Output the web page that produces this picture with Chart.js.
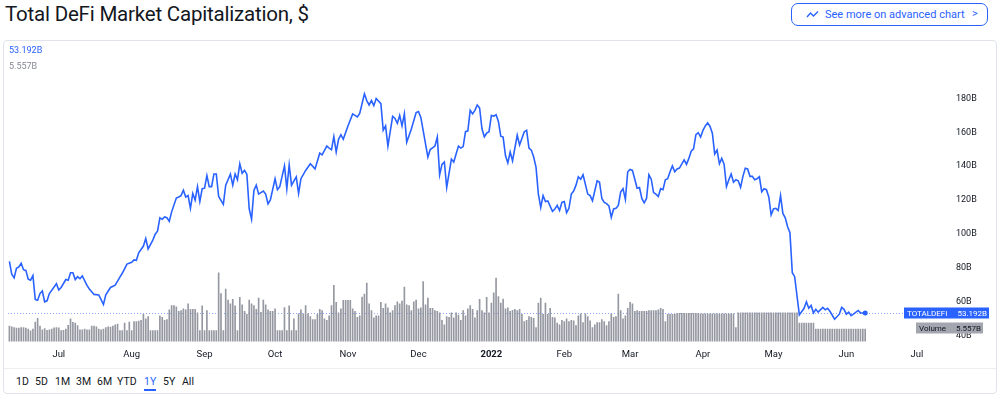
<!DOCTYPE html>
<html lang="en">
<head>
<meta charset="UTF-8">
<title>Total DeFi Market Capitalization, $</title>
<script src="https://cdn.jsdelivr.net/npm/chart.js"></script>
<style>
  body { margin: 0; width: 1000px; height: 403px; background: #fff; position: relative; overflow: hidden;
         font-family: Roboto, "Noto Sans", sans-serif; color: #131722; }
  #title { position: absolute; left: 5px; top: 2px; font-size: 20.5px; white-space: nowrap; letter-spacing: -0.2px; }
  #btn { position: absolute; left: 791px; top: 3px; width: 197px; height: 23px; box-sizing: border-box;
         border: 1px solid #2962ff; border-radius: 7px; color: #2962ff; font-size: 11px; }
  #btn svg { position: absolute; left: 14px; top: 6px; }
  #btn span { position: absolute; left: 33px; top: 4px; }
  #btn b { position: absolute; left: 180px; top: 3px; font-weight: normal; }
  #box { position: absolute; left: 3px; top: 40px; width: 994px; height: 354px; box-sizing: border-box;
         border: 1px solid #e0e3eb; border-radius: 4px; }
  #wrap { position: absolute; left: 4px; top: 41px; width: 993px; height: 327px; }
  .leg { position: absolute; left: 9px; font-size: 9px; }
  #ranges { position: absolute; left: 4px; top: 368px; width: 992px; height: 25px; border-top: 1px solid #eceef2; font-size: 10.5px; }
  #ranges span { position: absolute; top: 6px; }
  #ranges .on { color: #2962ff; border-bottom: 2px solid #2962ff; padding-bottom: 1px; }
</style>
</head>
<body>
  <div id="title">Total DeFi Market Capitalization, $</div>
  <div id="btn">
    <svg width="13" height="9" viewBox="0 0 13 9"><polyline points="1,7 4.5,3 7.5,6 12,1.5" fill="none" stroke="#2962ff" stroke-width="1.4"/></svg>
    <span>See more on advanced chart</span><b>&gt;</b>
  </div>
  <div id="box"></div>
  <div id="wrap"><canvas id="grafico"></canvas></div>
  <div class="leg" style="top:45px;color:#2962ff">53.192B</div>
  <div class="leg" style="top:61px;color:#868993">5.557B</div>
  <div id="ranges">
    <span style="left:12px">1D</span><span style="left:31px">5D</span><span style="left:51px">1M</span>
    <span style="left:72px">3M</span><span style="left:93px">6M</span><span style="left:113px">YTD</span>
    <span class="on" style="left:140px">1Y</span><span style="left:159px">5Y</span><span style="left:178px">All</span>
  </div>

<script>
  // day 0 = 10 Jun 2021
  var monthDays = [21, 52, 83, 113, 144, 174, 205, 236, 264, 295, 325, 356, 386]
  var monthLabels = ['Jul', 'Aug', 'Sep', 'Oct', 'Nov', 'Dec', '2022', 'Feb', 'Mar', 'Apr', 'May', 'Jun', 'Jul']
  var priceTicks = [40, 60, 80, 100, 120, 140, 160, 180]

  // TOTALDEFI, billions $
  var priceDays = [
    0, 1, 2, 3, 4, 5, 6, 7, 8, 9, 10, 11, 12, 13, 14, 15, 16, 17, 20, 21, 22, 24, 25, 26, 27, 28, 29, 30, 31, 33,
    34, 36, 38, 40, 41, 43, 45, 47, 48, 50, 52, 53, 54, 55, 57, 58, 59, 61, 62, 63, 64, 65, 66, 67, 68, 69, 71, 72, 73, 74,
    75, 76, 77, 78, 79, 80, 81, 82, 83, 84, 85, 86, 87, 88, 89, 91, 92, 94, 95, 96, 97, 98, 99, 100, 101, 102, 103, 104, 105, 106,
    108, 109, 110, 111, 113, 114, 115, 117, 118, 119, 120, 122, 123, 124, 126, 128, 130, 132, 133, 135, 136, 137, 138, 139, 140, 141, 142, 144, 146, 148,
    149, 151, 152, 153, 154, 155, 156, 158, 159, 160, 161, 163, 164, 165, 166, 167, 168, 169, 171, 173, 174, 175, 178, 179, 181, 182, 183, 184, 185, 186,
    188, 189, 191, 192, 193, 194, 195, 196, 197, 198, 199, 200, 201, 202, 203, 204, 205, 206, 207, 208, 209, 210, 211, 212, 213, 214, 216, 217, 219, 220,
    221, 222, 223, 224, 225, 226, 227, 228, 229, 231, 232, 233, 234, 235, 236, 237, 238, 239, 240, 241, 242, 243, 244, 246, 247, 248, 250, 251, 252, 253,
    254, 255, 256, 257, 258, 259, 260, 261, 262, 263, 264, 265, 266, 267, 268, 269, 270, 271, 272, 273, 274, 275, 276, 277, 278, 279, 280, 281, 282, 283,
    284, 285, 287, 288, 289, 290, 291, 292, 293, 294, 295, 296, 297, 298, 299, 300, 301, 302, 303, 304, 305, 306, 307, 308, 309, 310, 311, 312, 313, 314,
    315, 316, 317, 318, 319, 320, 321, 322, 323, 324, 325, 326, 327, 328, 329, 330, 331, 332, 333, 334, 336, 338, 339, 340, 341, 342, 343, 344, 346, 347,
    348, 349, 351, 353, 354, 355, 356, 357, 358, 359, 361, 362, 364
  ]
  var priceValues = [
    83.7, 76.1, 74.0, 79.6, 80.5, 82.6, 78.8, 78.4, 73.2, 72.6, 75.3, 61.2, 60.7, 64.7, 66.2, 59.8, 60.4, 64.7, 70.5, 66.8, 68.3, 73.0, 72.6, 77.0, 77.0, 73.0, 74.7, 73.5, 75.1, 69.5,
    67.4, 64.2, 63.9, 58.3, 63.9, 68.3, 69.7, 74.4, 76.7, 82.1, 83.2, 84.6, 84.4, 88.8, 92.8, 97.2, 91.1, 96.3, 99.8, 101.6, 109.5, 108.6, 110.0, 109.5, 107.4, 113.0, 121.2, 121.8, 122.6, 125.8,
    121.8, 122.6, 115.1, 123.9, 120.0, 127.9, 119.1, 126.7, 127.0, 134.4, 127.9, 127.9, 135.4, 135.4, 122.1, 117.4, 128.8, 135.3, 128.8, 135.4, 132.0, 141.4, 135.8, 137.5, 135.3, 114.7, 108.6, 125.6, 128.8, 123.5,
    125.3, 123.5, 117.7, 120.0, 132.6, 126.1, 127.9, 140.2, 126.7, 140.7, 128.8, 133.7, 123.9, 132.6, 137.5, 141.4, 138.4, 147.7, 146.7, 151.9, 150.7, 149.8, 157.5, 148.4, 155.9, 158.6, 155.9, 163.8, 170.9, 169.1,
    171.2, 182.8, 178.8, 176.2, 178.8, 175.8, 180.0, 177.0, 161.2, 163.8, 151.9, 169.5, 168.2, 165.3, 170.0, 163.8, 170.9, 154.2, 162.1, 171.7, 172.3, 168.8, 145.4, 149.8, 151.9, 157.2, 134.9, 141.1, 142.5, 127.4,
    144.2, 142.5, 151.9, 150.7, 151.6, 160.4, 160.9, 173.0, 170.9, 173.0, 176.2, 174.4, 162.1, 157.4, 159.5, 160.4, 170.0, 169.6, 170.4, 166.5, 157.7, 157.2, 146.3, 141.9, 148.4, 143.2, 158.3, 152.5, 160.4, 161.2,
    150.7, 149.5, 145.4, 139.3, 123.5, 115.6, 122.6, 119.1, 119.5, 113.3, 114.7, 116.8, 113.8, 118.6, 119.1, 112.5, 115.1, 123.5, 125.3, 128.8, 133.7, 132.3, 134.9, 123.5, 122.6, 119.6, 131.4, 130.5, 120.9, 118.6,
    117.9, 116.5, 109.8, 114.7, 115.1, 116.8, 124.7, 126.7, 120.4, 136.7, 138.1, 137.5, 132.3, 127.0, 127.4, 120.9, 118.3, 120.9, 134.9, 132.3, 124.4, 123.5, 122.1, 126.7, 126.1, 132.0, 132.6, 136.7, 140.2, 136.7,
    138.4, 138.9, 143.7, 141.1, 144.6, 148.9, 150.2, 158.6, 159.8, 157.2, 161.2, 163.8, 165.6, 163.5, 159.5, 147.2, 149.5, 141.4, 144.6, 141.1, 127.9, 132.0, 135.4, 130.5, 132.0, 131.4, 127.5, 134.0, 138.8, 138.4,
    134.0, 134.0, 132.0, 132.6, 133.7, 124.9, 126.7, 126.1, 121.8, 111.2, 114.7, 115.1, 113.8, 122.6, 112.1, 109.5, 104.2, 100.7, 77.0, 74.7, 52.1, 56.0, 59.8, 56.0, 57.7, 53.3, 55.4, 53.7, 56.5, 55.1,
    56.0, 54.2, 49.5, 52.5, 56.5, 55.4, 52.5, 53.7, 51.6, 52.5, 54.7, 53.3, 53.192
  ]

  // daily volume, billions $, one per day from day 0
  var volumeValues = [
    6.9, 6.6, 6.2, 6.0, 6.0, 6.3, 6.3, 6.0, 5.6, 4.8, 5.6, 8.7, 10.4, 6.9, 5.3, 5.8, 5.0, 5.3, 5.6, 6.1,
    6.3, 6.1, 4.9, 5.0, 5.6, 7.3, 10.2, 8.6, 8.2, 7.1, 5.3, 5.3, 5.6, 5.3, 5.3, 6.9, 6.9, 6.6, 5.6, 5.3,
    5.6, 6.2, 6.6, 6.5, 6.9, 7.5, 7.8, 4.9, 4.9, 8.2, 4.9, 8.7, 4.9, 8.9, 8.9, 9.1, 9.5, 12.2, 10.2, 11.1,
    4.9, 4.9, 4.9, 4.9, 11.5, 10.8, 9.5, 9.8, 14.2, 16.1, 16.1, 15.5, 13.5, 13.8, 14.6, 14.2, 16.8, 14.4, 14.4, 14.4,
    12.8, 4.9, 15.9, 4.9, 13.8, 4.9, 4.9, 4.9, 4.9, 30.7, 21.4,
    4.9, 23.4, 18.5, 16.8, 18.8, 15.9, 4.9, 19.7, 16.4, 13.5, 12.2, 18.5, 16.8, 16.1, 14.4, 19.4, 13.1, 18.5, 16.4, 14.2,
    13.5, 13.5, 14.6, 4.9, 4.9, 4.9, 15.2, 4.9, 15.9, 4.9, 10.2, 4.9, 12.4, 14.2, 12.4, 16.1, 12.4, 11.1, 9.8, 9.8,
    12.2, 14.4, 13.8, 10.2, 9.5, 11.5, 16.1, 25.1, 17.5, 12.8, 14.6, 18.4, 18.4, 18.4, 18.4, 14.6, 13.5, 10.8, 11.5, 19.8,
    21.2, 26.1, 16.8, 13.8, 10.6, 11.5, 11.5, 17.5, 14.8, 16.8, 15.1, 12.8, 13.8, 16.1, 17.7, 16.8, 18.1, 24.3, 16.4, 16.1,
    13.8, 17.7, 18.5, 14.6, 15.1, 26.7, 16.4, 19.4, 14.8, 14.8, 13.8, 13.5,
    12.8, 9.5, 7.5, 11.1, 10.8, 12.8, 10.6, 12.8, 11.8, 9.5, 13.8, 11.5, 14.6, 16.1, 14.4, 10.6, 13.8, 18.8, 13.8, 12.8,
    19.7, 12.8, 17.2, 21.7, 28.3, 20.1, 17.2, 19.0, 14.6, 15.1, 13.5, 13.9, 14.4, 13.8, 14.4, 12.2, 8.9, 9.5, 11.1, 10.8,
    10.4, 6.2, 17.2, 19.4, 12.2, 17.2, 12.2, 14.8, 10.8, 10.6, 8.2, 7.5, 9.5, 8.9, 10.2, 8.9, 9.5, 9.3, 7.1, 11.5,
    12.4, 8.5, 12.4, 11.1, 9.3, 6.2, 7.5, 8.5, 8.5, 9.8, 8.9, 7.1, 8.9, 12.4, 10.8, 11.1, 21.2, 13.8, 10.2, 11.5,
    14.8, 17.5, 16.8, 13.5, 13.8, 13.5, 13.5, 13.5, 13.5, 13.8, 13.8, 13.8,
    13.8, 14.2, 14.8, 14.4, 8.9, 12.2, 12.2, 12.2, 12.2, 12.6, 12.6, 12.6, 12.6, 12.6, 12.6, 12.6, 12.6, 12.6, 12.6,
    12.4, 12.4, 12.4, 12.4, 12.4, 12.4, 12.4, 12.4, 12.4, 12.4, 12.4, 12.4, 12.4, 12.4, 12.4, 6.2,
    12.8, 12.8, 12.8, 12.8, 12.8, 12.8, 12.8, 12.8, 12.8, 12.8, 12.8, 12.8, 12.8, 12.8, 12.8, 12.8, 12.8, 12.8, 12.8, 12.8,
    12.8, 12.8, 12.8, 12.8, 12.8, 12.8,
    8.2, 8.2, 8.2, 8.2, 8.2, 8.2, 8.2,
    5.6, 5.6, 5.6, 5.6, 5.6, 5.6, 5.6, 5.6, 5.6, 5.6, 5.6, 5.6, 5.6, 5.6, 5.6, 5.6, 5.6, 5.6, 5.6, 5.6, 5.6, 5.557
  ]

  var lastPrice = priceValues[priceValues.length - 1]
  var lastVolume = volumeValues[volumeValues.length - 1]

  var precoData = priceDays.map((d, i) => ({ x: d, y: priceValues[i] }))
  var volumeData = volumeValues.map((v, i) => ({ x: i, y: v }))

  function rotulo(ctx, x1, x2, y, bg, fg, left, right) {
    ctx.fillStyle = bg
    ctx.fillRect(x1, Math.round(y) - 5.5, x2 - x1, 11)
    ctx.fillStyle = fg
    ctx.font = '8px Roboto, sans-serif'
    ctx.textBaseline = 'middle'
    ctx.textAlign = 'left'
    ctx.fillText(left, x1 + 3, y + 0.5)
    ctx.textAlign = 'right'
    ctx.fillText(right, x2 - 2, y + 0.5)
  }

  var ultimoValor = {
    id: 'ultimoValor',
    beforeDatasetsDraw(chart) {
      var ctx = chart.ctx
      var a = chart.chartArea
      var y = Math.round(chart.scales.y.getPixelForValue(lastPrice)) + 0.5
      ctx.save()
      ctx.strokeStyle = 'rgba(41, 98, 255, 0.55)'
      ctx.lineWidth = 1
      ctx.setLineDash([1, 2])
      ctx.beginPath()
      ctx.moveTo(a.left, y)
      ctx.lineTo(a.right - 31, y)
      ctx.stroke()
      ctx.restore()
    },
    afterDraw(chart) {
      var ctx = chart.ctx
      var r = chart.chartArea.right
      ctx.save()
      rotulo(ctx, r - 31, r + 54, chart.scales.y.getPixelForValue(lastPrice), '#2962ff', '#ffffff', 'TOTALDEFI', '53.192B')
      rotulo(ctx, r - 19, r + 48, chart.scales.yv.getPixelForValue(lastVolume) - 1, '#a3a6af', '#131722', 'Volume', '5.557B')
      ctx.restore()
    }
  }

  var grafico = new Chart(document.getElementById('grafico'), {
    data: {
      datasets: [{
        type: 'line',
        label: 'TOTALDEFI',
        data: precoData,
        yAxisID: 'y',
        borderColor: '#2962ff',
        borderWidth: 1.6,
        tension: 0,
        pointRadius: (c) => c.dataIndex === priceDays.length - 1 ? 2.5 : 0,
        pointBackgroundColor: '#2962ff',
        pointBorderWidth: 0,
        order: 0
      }, {
        type: 'bar',
        label: 'Volume',
        data: volumeData,
        yAxisID: 'yv',
        backgroundColor: '#9598a1',
        barThickness: 1,
        order: 1
      }]
    },
    options: {
      animation: false,
      responsive: true,
      maintainAspectRatio: false,
      layout: { padding: 0 },
      plugins: { legend: { display: false }, tooltip: { enabled: false } },
      scales: {
        x: {
          type: 'linear',
          min: -0.6,
          max: 393.7,
          offset: false,
          grid: { display: false, drawTicks: false },
          border: { display: false },
          afterBuildTicks: (s) => { s.ticks = monthDays.map(v => ({ value: v })) },
          afterFit: (s) => { s.height = 19 },
          ticks: {
            autoSkip: false,
            maxRotation: 0,
            padding: 7,
            color: '#131722',
            font: (c) => ({ size: 9.5, family: 'Roboto, sans-serif', weight: monthLabels[c.index] === '2022' ? 'bold' : 'normal' }),
            callback: (v) => monthLabels[monthDays.indexOf(v)]
          }
        },
        y: {
          position: 'right',
          min: 36.3,
          max: 198.4,
          grid: { display: false, drawTicks: false },
          border: { display: false },
          afterBuildTicks: (s) => { s.ticks = priceTicks.map(v => ({ value: v })) },
          afterFit: (s) => { s.width = 62 },
          ticks: {
            padding: 21,
            color: '#131722',
            font: { size: 9, family: 'Roboto, sans-serif' },
            callback: (v) => v + 'B'
          }
        },
        yv: { display: false, min: 0, max: 122.2 }
      }
    },
    plugins: [ultimoValor]
  })
</script>
</body>
</html>
